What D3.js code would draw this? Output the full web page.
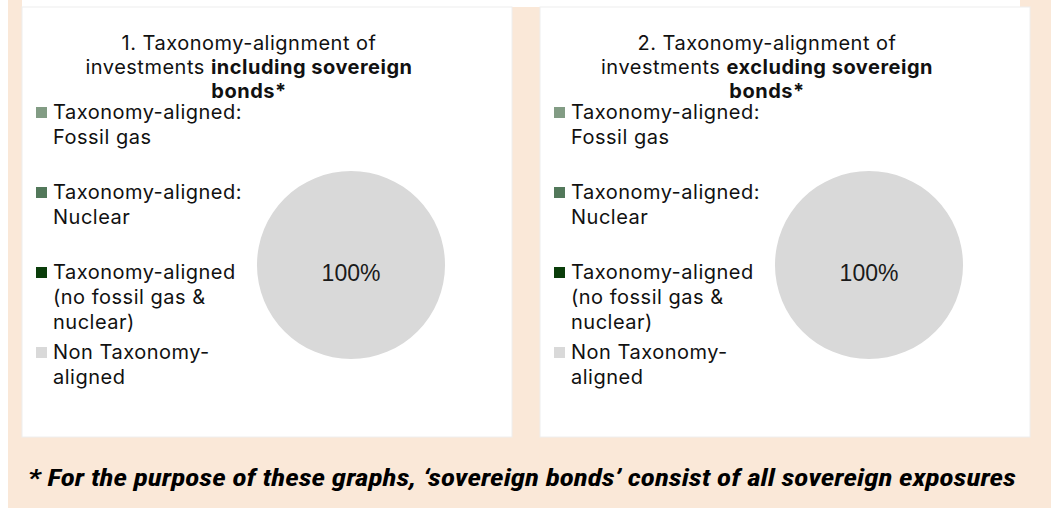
<!DOCTYPE html>
<meta charset="utf-8">
<title>Taxonomy-alignment</title>
<style>
  body { margin: 0; background: #fff; }
  svg { display: block; }
</style>

<div id="viz"></div>

<script src="https://cdnjs.cloudflare.com/ajax/libs/d3/7.8.5/d3.min.js"></script>
<script>

// data
var categories = ["Taxonomy-aligned: Fossil gas", "Taxonomy-aligned: Nuclear",
                  "Taxonomy-aligned (no fossil gas & nuclear)", "Non Taxonomy-aligned"];
var legendLines = [["Taxonomy-aligned:", "Fossil gas"],
                   ["Taxonomy-aligned:", "Nuclear"],
                   ["Taxonomy-aligned", "(no fossil gas &", "nuclear)"],
                   ["Non Taxonomy-", "aligned"]];
var colors = ["#829c84", "#52785a", "#0a3d0a", "#d9d9d9"];
var inclSovereign = [0, 0, 0, 100];
var exclSovereign = [0, 0, 0, 100];
var titles = [
  ["1. Taxonomy-alignment of", "investments ", "including sovereign", "bonds*"],
  ["2. Taxonomy-alignment of", "investments ", "excluding sovereign", "bonds*"]
];
var footnote = "* For the purpose of these graphs, \u2018sovereign bonds\u2019 consist of all sovereign exposures";

var width = 1051;
var height = 508;
var panelW = 490, panelStep = 518;
var font = "Inter, 'Noto Sans', sans-serif";

var svg = d3.select("#viz")
  .append("svg")
  .attr("width", width)
  .attr("height", height);

// background
svg.append("rect")
  .attr("x", 8).attr("y", 0)
  .attr("width", width - 8).attr("height", height)
  .attr("fill", "#fae8d8");
svg.append("rect")
  .attr("x", 22).attr("y", 0)
  .attr("width", 998).attr("height", 7)
  .attr("fill", "#fff");

var pie = d3.pie().sort(null).value(function(d) { return d; });
var arc = d3.arc().innerRadius(0).outerRadius(94);
var labelArc = d3.arc().innerRadius(0).outerRadius(16);

[inclSovereign, exclSovereign].forEach(function(values, p) {
  var g = svg.append("g")
    .attr("transform", "translate(" + (22 + p * panelStep) + ",0)");

  g.append("rect")
    .attr("x", 0).attr("y", 7)
    .attr("width", panelW).attr("height", 430)
    .attr("fill", "#fff")
    .attr("stroke", "#eeeeee")
    .attr("stroke-width", 1);

  // title
  var t = g.append("text")
    .attr("text-anchor", "middle")
    .attr("font-family", font)
    .attr("font-size", 20)
    .attr("letter-spacing", 0.5)
    .attr("fill", "#111");
  t.append("tspan").attr("x", 227).attr("y", 50).text(titles[p][0]);
  t.append("tspan").attr("x", 227).attr("y", 74).text(titles[p][1]);
  t.append("tspan").attr("font-weight", "bold").text(titles[p][2]);
  t.append("tspan").attr("x", 227).attr("y", 98)
    .attr("font-weight", "bold").text(titles[p][3]);

  // legend
  var leg = g.selectAll(".leg")
    .data(categories)
    .enter().append("g")
    .attr("class", "leg")
    .attr("transform", function(d, i) { return "translate(14," + (119 + i * 80) + ")"; });
  leg.append("rect")
    .attr("x", 0).attr("y", -12)
    .attr("width", 11).attr("height", 11)
    .attr("fill", function(d, i) { return colors[i]; });
  leg.append("text")
    .attr("font-family", font)
    .attr("font-size", 20)
    .attr("letter-spacing", 0.5)
    .attr("fill", "#111")
    .selectAll("tspan")
    .data(function(d, i) { return legendLines[i]; })
    .enter().append("tspan")
    .attr("x", 17)
    .attr("y", function(d, j) { return j * 25; })
    .text(function(d) { return d; });

  // pie
  var pg = g.append("g").attr("transform", "translate(329,265)");
  var arcs = pie(values);
  pg.selectAll("path")
    .data(arcs)
    .enter().append("path")
    .attr("d", arc)
    .attr("fill", function(d, i) { return colors[i]; });
  pg.selectAll(".lbl")
    .data(arcs.filter(function(d) { return d.value > 0; }))
    .enter().append("text")
    .attr("class", "lbl")
    .attr("transform", function(d) { return "translate(" + labelArc.centroid(d) + ")"; })
    .attr("dy", "0.36em")
    .attr("text-anchor", "middle")
    .attr("font-family", "'Liberation Sans', Arial, sans-serif")
    .attr("font-size", 23)
    .attr("fill", "#1a1a1a")
    .text(function(d) { return d.value + "%"; });
});

// footnote
svg.append("text")
  .attr("x", 28).attr("y", 486)
  .attr("font-family", "'Roboto Condensed', Roboto, sans-serif")
  .attr("font-size", 24)
  .attr("font-weight", "bold")
  .attr("font-style", "italic")
  .attr("fill", "#000")
  .attr("textLength", 988)
  .attr("lengthAdjust", "spacingAndGlyphs")
  .text(footnote);

</script>
